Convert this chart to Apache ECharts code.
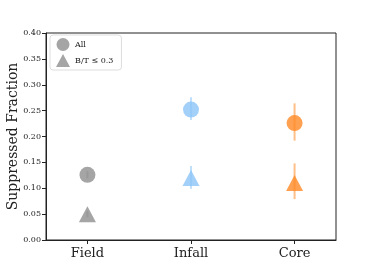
<!DOCTYPE html>
<html><head><meta charset="utf-8">
<script src="https://cdn.jsdelivr.net/npm/echarts@6/dist/echarts.min.js"></script>
<style>html,body{margin:0;padding:0;background:#fff}#c{width:374px;height:275px}</style>
</head><body><div id="c"></div>
<script>
var categories = ['Field', 'Infall', 'Core'];
var colors = ['#8f8f8f', '#8cc4f8', '#ff8a26'];
var allValues = [0.126, 0.252, 0.226];
var allLow = [0.119, 0.232, 0.192];
var allHigh = [0.133, 0.276, 0.264];
var btValues = [0.05, 0.12, 0.11];
var btLow = [0.044, 0.099, 0.079];
var btHigh = [0.056, 0.143, 0.148];
var yTicks = [0, 0.05, 0.1, 0.15, 0.2, 0.25, 0.3, 0.35, 0.4];

var serif = '"DejaVu Serif", "Liberation Serif", serif';
function pts(vals) { return vals.map(function (v, i) { return { value: [i, v], itemStyle: { color: colors[i] } }; }); }
function errs(lo, hi) { return lo.map(function (l, i) { return [i, l, hi[i]]; }); }
function errSeries(lo, hi) {
  return {
    type: 'custom', z: 5, silent: true,
    data: errs(lo, hi),
    renderItem: function (params, api) {
      var i = api.value(0);
      var a = api.coord([i, api.value(1)]);
      var b = api.coord([i, api.value(2)]);
      return { type: 'line', shape: { x1: a[0], y1: a[1], x2: b[0], y2: b[1] },
        style: { stroke: colors[i], lineWidth: 2, opacity: 0.55 } };
    }
  };
}
var chart = echarts.init(document.getElementById('c'));
chart.setOption({
  animation: false,
  grid: { left: 46, right: 38, top: 33, bottom: 35, outerBoundsMode: 'none', containLabel: false,
    show: true, borderColor: '#222', borderWidth: 1, backgroundColor: 'transparent' },
  legend: {
    left: 50, top: 35, orient: 'vertical', itemGap: 3, itemWidth: 14, itemHeight: 13,
    borderColor: '#ddd', borderWidth: 1, borderRadius: 3, padding: [3, 8, 3, 6],
    textStyle: { fontFamily: serif, fontSize: 8, color: '#222' },
    data: [
      { name: 'All', icon: 'circle', itemStyle: { color: '#8f8f8f' } },
      { name: 'B/T ≤ 0.3', icon: 'triangle', itemStyle: { color: '#8f8f8f' } }
    ]
  },
  xAxis: {
    type: 'value', min: -0.4, max: 2.4,
    splitLine: { show: false },
    axisLine: { show: true, onZero: false, lineStyle: { color: '#222' } },
    axisTick: { show: true, customValues: [0, 1, 2], length: 4, lineStyle: { color: '#222' } },
    axisLabel: { customValues: [0, 1, 2], margin: 7, fontFamily: serif, fontSize: 13, color: '#222',
      formatter: function (v) { return categories[Math.round(v)]; } }
  },
  yAxis: {
    type: 'value', min: 0, max: 0.4, interval: 0.05,
    name: 'Suppressed Fraction', nameLocation: 'middle', nameGap: 26, nameMoveOverlap: false,
    nameTextStyle: { fontFamily: serif, fontSize: 14, color: '#222' },
    splitLine: { show: false },
    axisLine: { show: true, onZero: false, lineStyle: { color: '#222' } },
    axisTick: { show: true, length: 4, lineStyle: { color: '#222' } },
    axisLabel: { fontFamily: serif, fontSize: 8, color: '#222', margin: 5,
      formatter: function (v) { return v.toFixed(2); } }
  },
  series: [
    { name: 'All', type: 'scatter', symbol: 'circle', symbolSize: 16, z: 3,
      itemStyle: { color: '#8f8f8f' }, data: pts(allValues) },
    { name: 'B/T ≤ 0.3', type: 'scatter', symbol: 'triangle', symbolSize: [17, 16], z: 3,
      itemStyle: { color: '#8f8f8f' }, data: pts(btValues) },
    errSeries(allLow, allHigh),
    errSeries(btLow, btHigh)
  ]
});
</script></body></html>
